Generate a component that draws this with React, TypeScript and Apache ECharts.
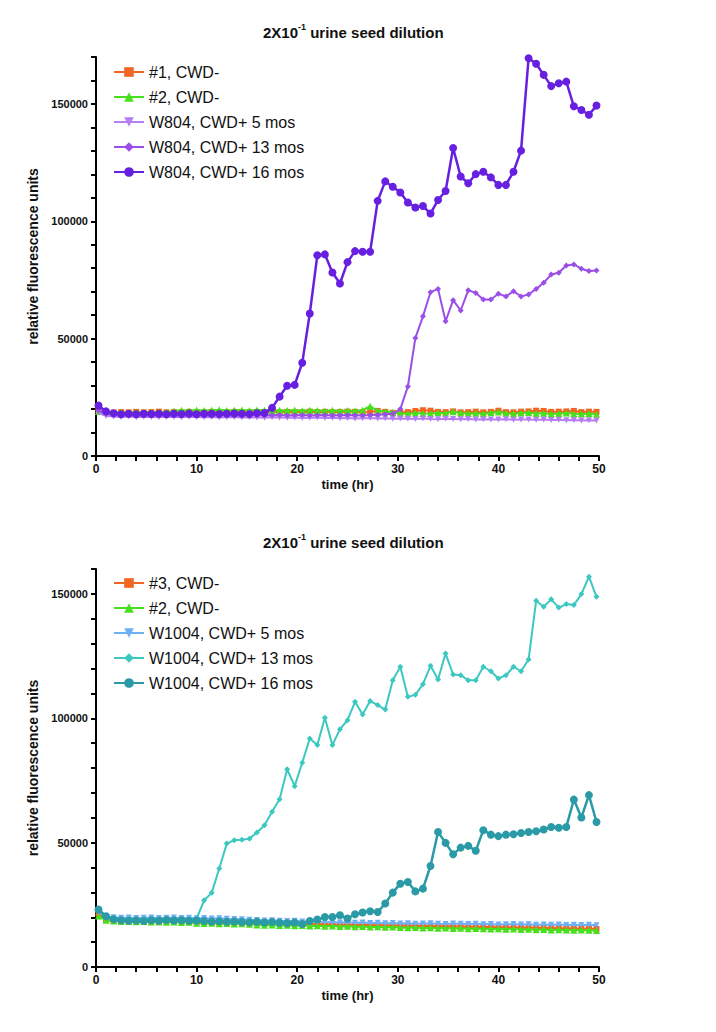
import React, { useEffect, useRef } from "react";
import * as echarts from "echarts";

const times = [
  0.25, 1, 1.75, 2.5, 3.25, 4, 4.75, 5.5, 6.25, 7, 7.75, 8.5, 9.25, 10, 10.75, 11.5, 12.25,
  13, 13.75, 14.5, 15.25, 16, 16.75, 17.5, 18.25, 19, 19.75, 20.5, 21.25, 22, 22.75, 23.5,
  24.25, 25, 25.75, 26.5, 27.25, 28, 28.75, 29.5, 30.25, 31, 31.75, 32.5, 33.25, 34, 34.75,
  35.5, 36.25, 37, 37.75, 38.5, 39.25, 40, 40.75, 41.5, 42.25, 43, 43.75, 44.5, 45.25, 46,
  46.75, 47.5, 48.25, 49, 49.75,
];

// Top panel (W804)
const top1 = [
  19500, 18600, 18500, 18700, 18600, 18800, 18600, 18700, 18900, 18600,
  18700, 18600, 18800, 18700, 18600, 18800, 18700, 18600, 18800, 18700,
  18600, 18800, 18700, 18900, 18600, 18800, 18700, 18600, 18900, 18700,
  18800, 18600, 18700, 18900, 18800, 18600, 18700, 19200, 18800, 18400,
  18500, 18700, 19200, 19500, 19300, 18800, 18700, 19000, 18600, 18700,
  18900, 18600, 18800, 19300, 18700, 18600, 18900, 19000, 19300, 19200,
  18800, 18900, 19000, 19200, 18700, 18900, 18800,
];
const top2 = [
  19000, 18500, 18400, 18600, 18500, 18700, 18600, 18500, 18800, 18700,
  19200, 19500, 19300, 19600, 19400, 19500, 19700, 19400, 19500, 19600,
  19400, 19600, 19500, 19300, 19500, 19400, 19600, 19300, 19500, 19400,
  19300, 19500, 19200, 19400, 19300, 19500, 21200, 19300, 19000, 18600,
  18200, 18000, 18300, 18100, 18000, 18400, 18200, 18900, 18300, 18100,
  18200, 18000, 18400, 18700, 18200, 18000, 18300, 18500, 18100, 18200,
  17900, 18100, 18300, 18000, 17900, 18100, 17800,
];
const top5 = [
  18500, 17000, 16800, 16600, 16800, 16500, 16700, 16600, 16500, 16700,
  16600, 16500, 16700, 16600, 16500, 16600, 16400, 16500, 16600, 16400,
  16500, 16400, 16300, 16500, 16400, 16300, 16400, 16200, 16300, 16400,
  16200, 16300, 16100, 16200, 16000, 16100, 16200, 16000, 16100, 15900,
  16000, 15900, 15800, 16000, 15800, 15700, 15900, 15800, 15700, 15800,
  15600, 15700, 15500, 15600, 15700, 15400, 15500, 15600, 15400, 15500,
  15300, 15400, 15200, 15300, 15100, 15200, 15100,
];
const top13 = [
  19500, 18000, 17500, 17400, 17500, 17300, 17500, 17400, 17500, 17300,
  17500, 17400, 17300, 17500, 17400, 17300, 17500, 17400, 17300, 17400,
  17500, 17400, 17300, 17400, 17500, 17300, 17400, 17500, 17300, 17400,
  17500, 17300, 17400, 17500, 17400, 17300, 17500, 17600, 17800, 18000,
  20000, 29600, 50300, 59500, 69800, 71200, 57400, 66400, 62000, 70600,
  69500, 66700, 66700, 69100, 68000, 70200, 68000, 68800, 71200, 73800,
  77300, 78100, 81200, 81600, 79800, 78800, 79000,
];
const top16 = [
  21500, 19000, 18200, 17800, 18000, 17800, 18000, 17900, 18000, 17800,
  18000, 17900, 18100, 17800, 18000, 18000, 17900, 18000, 18100, 18000,
  17900, 18200, 18300, 20500, 25300, 29900, 30300, 39700, 60700, 85500,
  85900, 78200, 73500, 82600, 87300, 87000, 87000, 108700, 117000, 114700,
  112300, 108000, 105900, 106500, 103300, 109100, 112900, 131200, 119100, 116200,
  120100, 121100, 118700, 115500, 115500, 121100, 130100, 169500, 167100, 162400,
  157600, 158800, 159500, 149000, 147400, 145400, 149300,
];

// Bottom panel (W1004)
const bot3 = [
  21500, 19000, 18500, 18400, 18200, 18300, 18100, 18200, 18000, 18300,
  18100, 18200, 18000, 18100, 17900, 18000, 17800, 17900, 17700, 17800,
  17600, 17700, 17500, 17600, 17400, 17500, 17300, 17400, 17200, 17300,
  17100, 17200, 17000, 17100, 16900, 17000, 16800, 16900, 16700, 16800,
  16600, 16700, 16500, 16600, 16400, 16500, 16300, 16400, 16200, 16300,
  16100, 16200, 16000, 16100, 15900, 16000, 15800, 15900, 15700, 15800,
  15600, 15700, 15500, 15600, 15400, 15500, 15300,
];
const bot2 = [
  20500, 18800, 18500, 18300, 18400, 18200, 18300, 18100, 18200, 18000,
  18100, 17900, 18000, 17600, 17500, 17600, 17400, 17500, 17300, 17400,
  17200, 16900, 16800, 16900, 16700, 16800, 16600, 16700, 16500, 16600,
  16400, 16500, 16300, 16400, 16200, 16300, 16100, 16200, 16000, 16100,
  15900, 15800, 15900, 15700, 15800, 15600, 15700, 15500, 15600, 15400,
  15500, 15400, 15300, 15400, 15200, 15300, 15100, 15200, 15000, 15100,
  14900, 15000, 14900, 14800, 14900, 14800, 14700,
];
const bot5 = [
  22000, 20300, 20000, 19800, 19900, 19700, 19800, 19900, 19700, 19800,
  19900, 19700, 19800, 19600, 19700, 19500, 19600, 19400, 19300, 19200,
  19000, 18900, 18700, 18800, 18600, 18500, 18600, 18300, 18400, 18200,
  18100, 18000, 17900, 18000, 17800, 17900, 17700, 17800, 17600, 17700,
  17500, 17600, 17400, 17500, 17600, 17400, 17300, 17500, 17400, 17300,
  17400, 17200, 17300, 17100, 17200, 17300, 17100, 17200, 17000, 17100,
  17000, 17100, 16900, 17000, 16900, 17000, 16800,
];
const bot13 = [
  22500, 20200, 19600, 19300, 19400, 19200, 19300, 19400, 19200, 19300,
  19400, 19300, 19200, 19500, 26800, 29800, 39600, 49600, 51000, 51200,
  51600, 54100, 57000, 62400, 67400, 79500, 72700, 82100, 91900, 89200,
  100200, 89200, 95600, 99200, 106600, 101500, 106900, 105300, 103500, 115300,
  120700, 108600, 109400, 113700, 121100, 115600, 126000, 117600, 117300, 115300,
  115300, 120700, 118900, 116000, 117300, 120700, 118900, 123600, 147200, 144800,
  147800, 144500, 145900, 145500, 149900, 156900, 148800,
];
const bot16 = [
  23100, 20400, 19200, 18800, 18600, 18700, 18500, 18800, 18600, 18900,
  18700, 18800, 18600, 18700, 18500, 18300, 18400, 18200, 18300, 18100,
  18000, 18200, 17900, 18100, 17800, 17600, 17900, 17300, 18500, 19100,
  20100, 20100, 20800, 19500, 21200, 21900, 22400, 22100, 25500, 29900,
  33500, 34200, 30400, 31500, 40600, 54300, 49900, 45300, 48000, 48700,
  46700, 55000, 53200, 52600, 53200, 53400, 53900, 54300, 54600, 55300,
  56300, 56000, 56300, 67300, 60100, 69100, 58300,
];

const topNames = ["#1, CWD-", "#2, CWD-", "W804, CWD+ 5 mos", "W804, CWD+ 13 mos", "W804, CWD+ 16 mos"];
const botNames = ["#3, CWD-", "#2, CWD-", "W1004, CWD+ 5 mos", "W1004, CWD+ 13 mos", "W1004, CWD+ 16 mos"];
const topValues = [top1, top2, top5, top13, top16];
const botValues = [bot3, bot2, bot5, bot13, bot16];
const topColors = ["#f26522", "#47e01c", "#b67ef2", "#9a4fe8", "#6820e0"];
const botColors = ["#f26522", "#47e01c", "#6fb0f5", "#3cc8c0", "#2a9aa6"];
const yTicks = [0, 50000, 100000, 150000];
const titleText = "{a|2X10}{s|-1}{a| urine seed dilution}";

const symbols = ["rect", "triangle", "triangle", "diamond", "circle"];
const symbolRotates = [0, 0, 180, 0, 0];
const symbolSizes = [6, 7, 6, 6, 8];
const lineWidths = [2, 2, 2, 2, 2.5];

function buildSeries(names: string[], values: number[][], colors: string[], idx: number) {
  return names.map((name, k) => ({
    type: "line",
    name,
    xAxisIndex: idx,
    yAxisIndex: idx,
    data: times.map((t, i) => [t, values[k][i]]),
    symbol: symbols[k],
    symbolRotate: symbolRotates[k],
    symbolSize: symbolSizes[k],
    showAllSymbol: true,
    color: colors[k],
    lineStyle: { width: lineWidths[k], color: colors[k] },
    itemStyle: { color: colors[k] },
    z: 2 + k,
  }));
}

export default function App() {
  const ref = useRef<HTMLDivElement>(null);
  useEffect(() => {
    if (!ref.current) return;
    const chart = echarts.init(ref.current, undefined, { renderer: "svg" });
    const font = "'Liberation Sans', Arial, Helvetica, sans-serif";
    const axisCommonX = {
      type: "value",
      min: 0,
      max: 50,
      interval: 2,
      name: "time (hr)",
      nameLocation: "middle",
      nameGap: 22,
      nameTextStyle: { fontFamily: font, fontWeight: "bold", fontSize: 13, color: "#111" },
      axisLine: { show: true, lineStyle: { color: "#000", width: 2 } },
      axisTick: { show: true, length: 5, lineStyle: { color: "#000", width: 2 } },
      axisLabel: {
        fontFamily: font,
        fontWeight: "bold",
        fontSize: 12,
        color: "#111",
        margin: 7,
        formatter: (v: number) => (v % 10 === 0 ? String(v) : ""),
      },
      splitLine: { show: false },
    };
    const axisCommonY = (max: number) => ({
      type: "value",
      min: 0,
      max,
      interval: 10000,
      name: "relative fluorescence units",
      nameLocation: "middle",
      nameGap: 30,
      nameTextStyle: { fontFamily: font, fontWeight: "bold", fontSize: 14, color: "#111" },
      axisLine: { show: true, lineStyle: { color: "#000", width: 2 } },
      axisTick: { show: true, length: 5, lineStyle: { color: "#000", width: 2 } },
      axisLabel: {
        fontFamily: font,
        fontWeight: "bold",
        fontSize: 11,
        color: "#111",
        margin: 8,
        formatter: (v: number) => (yTicks.indexOf(v) >= 0 ? String(v) : ""),
      },
      splitLine: { show: false },
    });
    const titleRich = {
      a: { fontFamily: font, fontWeight: "bold", fontSize: 15, color: "#111", lineHeight: 20 },
      s: { fontFamily: font, fontWeight: "bold", fontSize: 9, color: "#111", lineHeight: 10, verticalAlign: "top" },
    };
    const legendCommon = {
      orient: "vertical",
      left: 108,
      itemWidth: 30,
      itemHeight: 12,
      itemGap: 9,
      textStyle: { fontFamily: font, fontSize: 16, color: "#111" },
      selectedMode: false,
    };
    chart.setOption({
      animation: false,
      backgroundColor: "#fff",
      title: [
        { text: titleText, left: 258, top: 17, textStyle: { rich: titleRich } },
        { text: titleText, left: 258, top: 527, textStyle: { rich: titleRich } },
      ],
      legend: [
        { ...legendCommon, top: 59, data: topNames },
        { ...legendCommon, top: 570, data: botNames.map((n) => n) },
      ],
      grid: [
        { left: 96, top: 57, width: 503, height: 399 },
        { left: 96, top: 569, width: 503, height: 398 },
      ],
      xAxis: [
        { ...axisCommonX, gridIndex: 0 },
        { ...axisCommonX, gridIndex: 1 },
      ],
      yAxis: [
        { ...axisCommonY(170000), gridIndex: 0 },
        { ...axisCommonY(160000), gridIndex: 1 },
      ],
      series: [
        ...buildSeries(topNames, topValues, topColors, 0),
        ...buildSeries(botNames, botValues, botColors, 1),
      ],
    });
    return () => chart.dispose();
  }, []);
  return (
    <div
      ref={ref}
      style={{ position: "absolute", left: 0, top: 0, width: 716, height: 1032, background: "#fff" }}
    />
  );
}
